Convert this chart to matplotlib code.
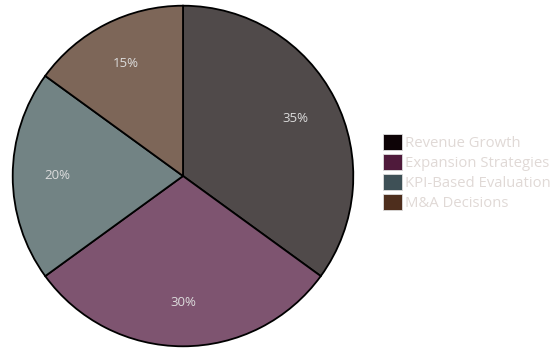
import matplotlib.pyplot as plt

labels = ["Revenue Growth", "Expansion Strategies", "KPI-Based Evaluation", "M&A Decisions"]
shares = [35, 30, 20, 15]
wedge_colors = ["#504a4a", "#7e5470", "#728384", "#7d6658"]
legend_colors = ["#0d0306", "#4f1a3b", "#3e5056", "#4e2e1d"]

plt.rcParams["font.family"] = ["Open Sans", "DejaVu Sans"]

fig = plt.figure(figsize=(5.56, 3.51), dpi=100)
cx, cy, r = 183, 176, 172
ax = fig.add_axes([(cx - r) / 556, (351 - cy - r) / 351, 2 * r / 556, 2 * r / 351])

wedges, texts, autotexts = ax.pie(
    shares,
    colors=wedge_colors,
    startangle=90,
    counterclock=False,
    autopct="%d%%",
    pctdistance=0.74,
    wedgeprops=dict(edgecolor="black", linewidth=1.3),
    textprops=dict(color="#dcdcdc", fontsize=9.5),
)
ax.set_xlim(-1.01, 1.01)
ax.set_ylim(-1.01, 1.01)
ax.set_aspect("equal")

handles = [plt.Rectangle((0, 0), 1, 1, facecolor=c, edgecolor="#dddddd", linewidth=0.6)
           for c in legend_colors]
leg = fig.legend(
    handles, labels,
    loc="upper left",
    bbox_to_anchor=(383 / 556, 1 - 134 / 351),
    frameon=False,
    fontsize=10.7,
    handlelength=1.25,
    handleheight=1.25,
    handletextpad=0.2,
    labelspacing=0.21,
    borderpad=0,
    borderaxespad=0,
)
for t in leg.get_texts():
    t.set_color("#e0d9d6")

fig.savefig("out.png", dpi=100)
